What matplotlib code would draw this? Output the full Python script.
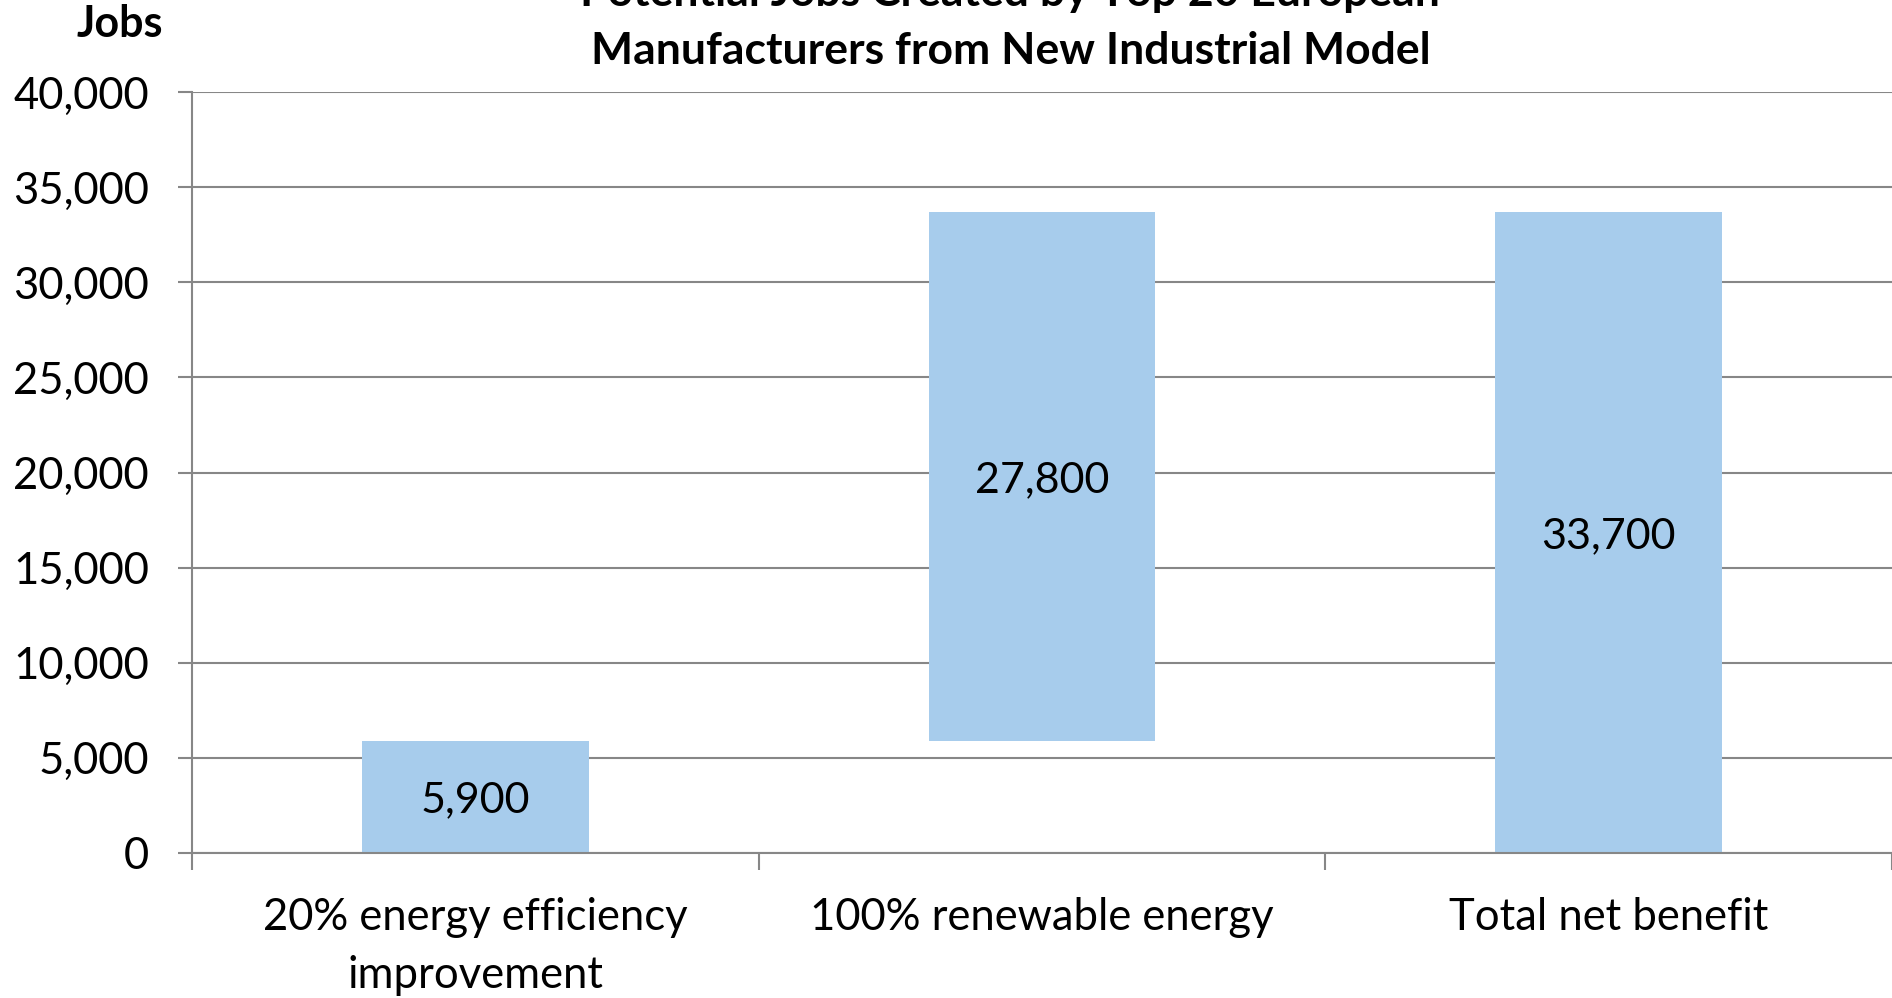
import matplotlib.pyplot as plt
import numpy as np

categories = ['20% energy efficiency\nimprovement', '100% renewable energy', 'Total net benefit']
steps = [5900, 27800]   # contributions stacked in the waterfall
total = sum(steps)      # 33,700
yticks = [0, 5000, 10000, 15000, 20000, 25000, 30000, 35000, 40000]

plt.rcParams['font.family'] = ['Lato', 'DejaVu Sans']

heights = steps + [total]
bottoms = [0, steps[0], 0]

fig = plt.figure(figsize=(18.92, 9.98), dpi=100)
ax = fig.add_axes([0.1015, 0.1453, 0.8985, 0.7625])

x = np.arange(len(categories)) + 0.5
bar_color = '#A7CCEC'
grid_color = '#878787'

ax.bar(x, heights, bottom=bottoms, width=0.4, color=bar_color, zorder=2)

for xi, h, b in zip(x, heights, bottoms):
    ax.text(xi, b + h / 2, f'{h:,}', ha='center', va='center_baseline', fontsize=31, color='black', zorder=3)

ax.set_xlim(0, len(categories))
ax.set_ylim(0, 40000)
ax.set_yticks(yticks)
ax.set_yticklabels([f'{v:,}' for v in yticks], fontsize=31.4)
ax.yaxis.grid(True, color=grid_color, linewidth=1.5, zorder=0)
ax.set_axisbelow(True)

# category labels between the tick marks at the boundaries
ax.set_xticks(np.arange(len(categories) + 1))
ax.set_xticklabels([])
ax.set_xticks(x, minor=True)
ax.set_xticklabels(categories, minor=True, fontsize=31.4, linespacing=1.5)
ax.tick_params(axis='x', which='minor', length=0, pad=32)
ax.tick_params(axis='x', which='major', length=12, width=1.5, color=grid_color)
ax.tick_params(axis='y', length=10, width=1.5, color=grid_color, pad=21)

for side in ['top', 'right']:
    ax.spines[side].set_visible(False)
for side in ['left', 'bottom']:
    ax.spines[side].set_color(grid_color)
    ax.spines[side].set_linewidth(1.5)

title_x = 0.534
fig.text(title_x, 1.007, 'Potential Jobs Created by Top 20 European',
         ha='center', va='center', fontsize=32, fontweight='bold')
fig.text(title_x, 0.949, 'Manufacturers from New Industrial Model',
         ha='center', va='center', fontsize=32, fontweight='bold')
fig.text(0.0635, 0.976, 'Jobs', ha='center', va='center', fontsize=31, fontweight='bold')

fig.savefig('out.png', dpi=100)
